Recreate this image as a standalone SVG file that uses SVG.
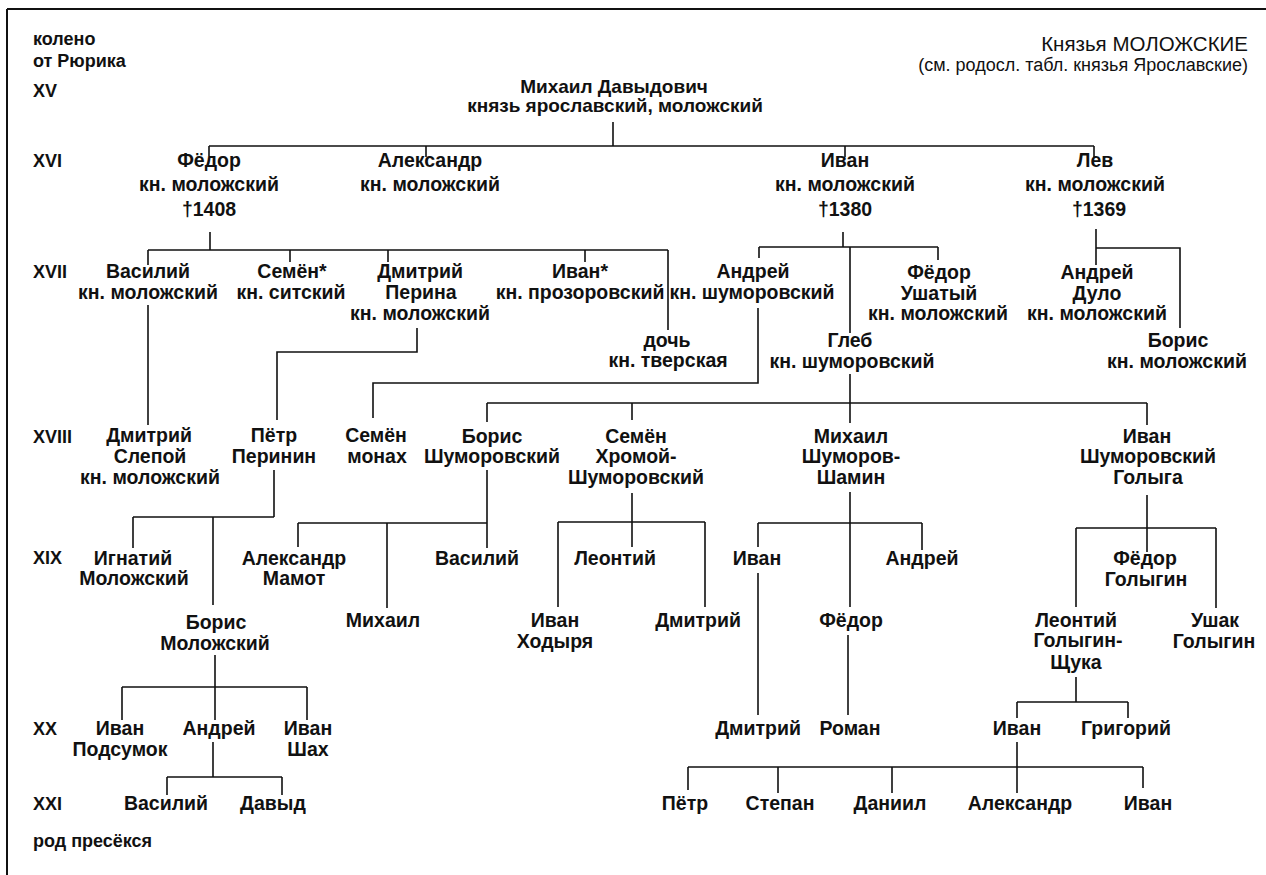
<svg xmlns="http://www.w3.org/2000/svg" width="1266" height="875" viewBox="0 0 1266 875">
<style>
text{font-family:"Liberation Sans",Arial,sans-serif;fill:#111}
.n{font-size:19.5px;font-weight:bold;text-anchor:middle}
.m{font-size:19px;font-weight:bold;text-anchor:middle}
.g{font-size:18px;font-weight:bold}
.t{font-size:20.5px;text-anchor:end}
.s{font-size:18px;text-anchor:end}
.c path{fill:none;stroke:#111;stroke-width:1.6}
.f{fill:none;stroke:#111;stroke-width:2}
</style>
<rect width="1266" height="875" fill="#fff"/>
<path class="f" d="M7,9 H1266 M7,9 V875"/>
<g id="labels">
<text class="g" x="33" y="45">колено</text>
<text class="g" x="33" y="67">от Рюрика</text>
<text class="g" x="33" y="97">XV</text>
<text class="g" x="33" y="167">XVI</text>
<text class="g" x="33" y="278">XVII</text>
<text class="g" x="33" y="443">XVIII</text>
<text class="g" x="33" y="564">XIX</text>
<text class="g" x="33" y="735">XX</text>
<text class="g" x="33" y="810">XXI</text>
<text class="g" x="33" y="847">род пресёкся</text>
<text class="t" x="1248" y="51">Князья МОЛОЖСКИЕ</text>
<text class="s" x="1248" y="71">(см. родосл. табл. князья Ярославские)</text>
</g>
<g id="connectors" class="c">
<path d="M613,122 V146 M209,146 H1094 M209,146 V156 M426,146 V157 M845,146 V157 M1094,146 V157"/>
<path d="M210,232 V250 M148,250 H668 M148,250 V265 M290,250 V262 M388,250 V262 M585,250 V262 M668,250 V330"/>
<path d="M148,305 V425"/>
<path d="M417,328 V352 H277 V420"/>
<path d="M758,308 V383 H373 V418"/>
<path d="M843,232 V247 M759,247 H938 M759,247 V258 M938,247 V260 M850,247 V333"/>
<path d="M1096,229 V265 M1096,248 H1180 V328"/>
<path d="M850,374 V403 M487,403 H1147 M487,403 V422 M632,403 V420 M850,403 V423 M1147,403 V425"/>
<path d="M274,470 V517 M133,517 H274 M133,517 V548 M213,517 V605"/>
<path d="M487,470 V548 M298,523 H487 M298,523 V547 M387,523 V608"/>
<path d="M632,493 V547 M558,522 H705 M558,522 V607 M705,522 V607"/>
<path d="M850,492 V607 M758,523 H922 M758,523 V547 M922,523 V550"/>
<path d="M758,573 V715"/>
<path d="M848,635 V715"/>
<path d="M1147,495 V552 M1076,528 H1216 M1076,528 V607 M1216,528 V608"/>
<path d="M1076,677 V702 M1017,702 H1128 M1017,702 V718 M1128,702 V718"/>
<path d="M1017,742 V793 M688,767 H1143 M688,767 V790 M778,767 V793 M892,767 V793 M1143,767 V788"/>
<path d="M215,655 V687 M122,687 H307 M122,687 V720 M215,687 V720 M307,687 V720"/>
<path d="M213,742 V777 M167,777 H282 M167,777 V795 M282,777 V795"/>
</g>
<g id="n-mikhail"><text class="m" x="614" y="93">Михаил Давыдович</text><text class="m" x="615" y="112">князь ярославский, моложский</text></g>
<g id="n-fedor"><text class="n" x="209" y="167">Фёдор</text><text class="n" x="209" y="191">кн. моложский</text><text class="n" x="209" y="216">†1408</text></g>
<g id="n-aleksandr"><text class="n" x="430" y="167">Александр</text><text class="n" x="430" y="191">кн. моложский</text></g>
<g id="n-ivan16"><text class="n" x="845" y="167">Иван</text><text class="n" x="845" y="191">кн. моложский</text><text class="n" x="845" y="216">†1380</text></g>
<g id="n-lev"><text class="n" x="1095" y="167">Лев</text><text class="n" x="1095" y="191">кн. моложский</text><text class="n" x="1099" y="216">†1369</text></g>
<g id="n-vasiliy17"><text class="n" x="148" y="278">Василий</text><text class="n" x="148" y="299">кн. моложский</text></g>
<g id="n-semen17"><text class="n" x="292" y="278">Семён*</text><text class="n" x="291" y="299">кн. ситский</text></g>
<g id="n-dmitriy17"><text class="n" x="420" y="278">Дмитрий</text><text class="n" x="421" y="299">Перина</text><text class="n" x="420" y="320">кн. моложский</text></g>
<g id="n-ivan17"><text class="n" x="580" y="278">Иван*</text><text class="n" x="580" y="299">кн. прозоровский</text></g>
<g id="n-doch"><text class="n" x="667" y="347">дочь</text><text class="n" x="668" y="367">кн. тверская</text></g>
<g id="n-andrey17"><text class="n" x="753" y="278">Андрей</text><text class="n" x="752" y="299">кн. шуморовский</text></g>
<g id="n-fedor17"><text class="n" x="939" y="279">Фёдор</text><text class="n" x="939" y="300">Ушатый</text><text class="n" x="938" y="320">кн. моложский</text></g>
<g id="n-gleb"><text class="n" x="850" y="347">Глеб</text><text class="n" x="852" y="368">кн. шуморовский</text></g>
<g id="n-andreydulo"><text class="n" x="1097" y="279">Андрей</text><text class="n" x="1097" y="300">Дуло</text><text class="n" x="1097" y="320">кн. моложский</text></g>
<g id="n-boris17"><text class="n" x="1178" y="347">Борис</text><text class="n" x="1177" y="368">кн. моложский</text></g>
<g id="n-dmitriy18"><text class="n" x="149" y="442">Дмитрий</text><text class="n" x="150" y="463">Слепой</text><text class="n" x="150" y="484">кн. моложский</text></g>
<g id="n-petr18"><text class="n" x="274" y="442">Пётр</text><text class="n" x="274" y="463">Перинин</text></g>
<g id="n-semen18"><text class="n" x="376" y="442">Семён</text><text class="n" x="377" y="463">монах</text></g>
<g id="n-boris18"><text class="n" x="492" y="443">Борис</text><text class="n" x="492" y="463">Шуморовский</text></g>
<g id="n-semenkh"><text class="n" x="636" y="443">Семён</text><text class="n" x="636" y="463">Хромой-</text><text class="n" x="636" y="484">Шуморовский</text></g>
<g id="n-mikhail18"><text class="n" x="851" y="443">Михаил</text><text class="n" x="851" y="463">Шуморов-</text><text class="n" x="851" y="484">Шамин</text></g>
<g id="n-ivangolyga"><text class="n" x="1147" y="443">Иван</text><text class="n" x="1148" y="463">Шуморовский</text><text class="n" x="1148" y="484">Голыга</text></g>
<g id="n-ignatiy"><text class="n" x="133" y="565">Игнатий</text><text class="n" x="134" y="585">Моложский</text></g>
<g id="n-borismol"><text class="n" x="216" y="629">Борис</text><text class="n" x="215" y="650">Моложский</text></g>
<g id="n-aleksmamot"><text class="n" x="294" y="565">Александр</text><text class="n" x="294" y="585">Мамот</text></g>
<g id="n-mikhail19"><text class="n" x="383" y="627">Михаил</text></g>
<g id="n-vasiliy19"><text class="n" x="477" y="565">Василий</text></g>
<g id="n-leontiy19"><text class="n" x="615" y="565">Леонтий</text></g>
<g id="n-ivankhod"><text class="n" x="555" y="627">Иван</text><text class="n" x="555" y="648">Ходыря</text></g>
<g id="n-dmitriy19"><text class="n" x="698" y="627">Дмитрий</text></g>
<g id="n-ivan19"><text class="n" x="757" y="565">Иван</text></g>
<g id="n-andrey19"><text class="n" x="922" y="565">Андрей</text></g>
<g id="n-fedor19"><text class="n" x="851" y="627">Фёдор</text></g>
<g id="n-fedorgol"><text class="n" x="1145" y="565">Фёдор</text><text class="n" x="1146" y="586">Голыгин</text></g>
<g id="n-leontiygol"><text class="n" x="1076" y="627">Леонтий</text><text class="n" x="1078" y="647">Голыгин-</text><text class="n" x="1076" y="669">Щука</text></g>
<g id="n-ushak"><text class="n" x="1215" y="627">Ушак</text><text class="n" x="1214" y="648">Голыгин</text></g>
<g id="n-ivanpods"><text class="n" x="120" y="735">Иван</text><text class="n" x="120" y="756">Подсумок</text></g>
<g id="n-andrey20"><text class="n" x="219" y="735">Андрей</text></g>
<g id="n-ivanshakh"><text class="n" x="308" y="735">Иван</text><text class="n" x="308" y="756">Шах</text></g>
<g id="n-dmitriy20"><text class="n" x="758" y="735">Дмитрий</text></g>
<g id="n-roman"><text class="n" x="850" y="735">Роман</text></g>
<g id="n-ivan20"><text class="n" x="1017" y="735">Иван</text></g>
<g id="n-grigoriy"><text class="n" x="1126" y="735">Григорий</text></g>
<g id="n-vasiliy21"><text class="n" x="166" y="810">Василий</text></g>
<g id="n-davyd"><text class="n" x="273" y="810">Давыд</text></g>
<g id="n-petr21"><text class="n" x="685" y="810">Пётр</text></g>
<g id="n-stepan"><text class="n" x="780" y="810">Степан</text></g>
<g id="n-daniil"><text class="n" x="890" y="810">Даниил</text></g>
<g id="n-aleks21"><text class="n" x="1020" y="810">Александр</text></g>
<g id="n-ivan21"><text class="n" x="1148" y="810">Иван</text></g>
</svg>
